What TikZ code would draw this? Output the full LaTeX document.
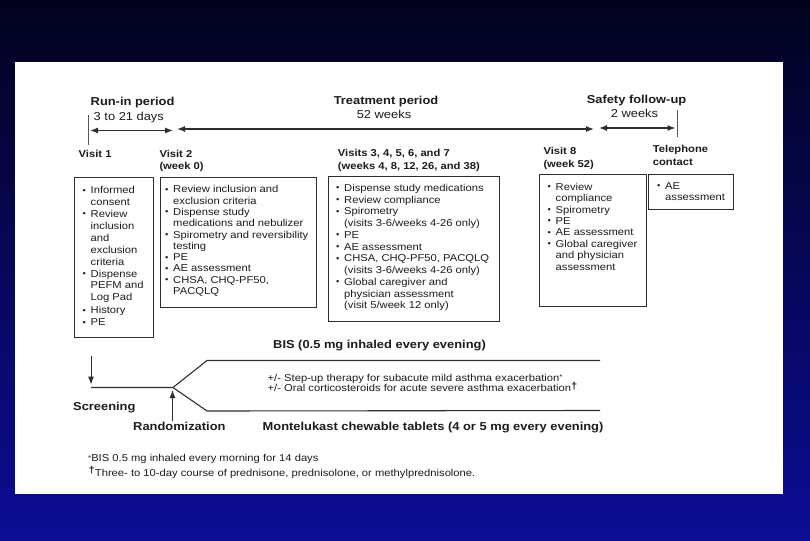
\documentclass[tikz,border=0pt]{standalone}
\usepackage{fontspec}
\setmainfont{Liberation Sans}[FakeStretch=1.12]
\usetikzlibrary{arrows.meta}
\definecolor{bgtop}{RGB}{2,2,30}
\definecolor{bgbot}{RGB}{12,12,150}
\definecolor{ink}{RGB}{28,28,28}
\definecolor{lin}{RGB}{45,45,45}
\newcommand\bu{\makebox[8pt][l]{\raisebox{0.6pt}{\fontsize{8.5}{8.5}\selectfont\textbullet}}}
\newcommand\ci{\hspace*{8pt}}
\newcommand\fnast{\raisebox{1.8pt}{\fontsize{7}{7}\selectfont *}}
\newcommand\fndag{{\bfseries\textdagger}}
\tikzset{
  hd/.style={font=\fontsize{11.5}{13}\selectfont\bfseries, text=ink, inner sep=0pt},
  sub/.style={font=\fontsize{11.5}{13}\selectfont, text=ink, inner sep=0pt},
  vlab/.style={font=\fontsize{10}{12.8}\selectfont\bfseries, text=ink, inner sep=0pt, align=left, anchor=north west},
  vbox/.style={draw=lin, line width=0.9pt, inner sep=0pt, anchor=north west},
  btxt/.style={text=ink, inner sep=0pt, align=left, anchor=north west},
  small/.style={font=\fontsize{10}{12}\selectfont, text=ink, inner sep=0pt, anchor=mid west},
  ln/.style={draw=lin, line width=1.1pt},
  dbl/.style={draw=lin, line width=1.3pt, {Latex[length=8pt,width=6pt]}-{Latex[length=8pt,width=6pt]}},
  arr/.style={draw=lin, line width=1pt, -{Latex[length=8pt,width=6pt]}},
  tick/.style={draw=lin!80, line width=0.7pt}
}
\begin{document}
\begin{tikzpicture}[x=1pt,y={(0pt,-1pt)}]
\useasboundingbox (0,0) rectangle (810,540);
\shade[top color=bgtop, bottom color=bgbot] (0,0) rectangle (810,540);
\fill[white] (15,62) rectangle (783,493.5);

% period headings
\node[hd, anchor=mid west] (runin) at (90.5,103.3) {Run-in period};
\node[sub, anchor=mid west] (rdays) at (93.5,118) {3 to 21 days};
\node[hd, anchor=mid] (treat) at (386,102) {Treatment period};
\node[sub, anchor=mid] (tweeks) at (384,116) {52 weeks};
\node[hd, anchor=mid] (safe) at (636.5,100.7) {Safety follow-up};
\node[sub, anchor=mid] (sweeks) at (634.5,114.5) {2 weeks};

% period arrows
\coordinate (ra) at (90,130.5);
\coordinate (rb) at (173,130.5);
\coordinate (ta) at (177,129);
\coordinate (tb) at (594,129);
\coordinate (sa) at (599,128);
\coordinate (sb) at (675.5,128);
\draw[dbl] (ra) -- (rb);
\draw[dbl] (ta) -- (tb);
\draw[dbl] (sa) -- (sb);
\coordinate (v1a) at (88,115);
\coordinate (v1b) at (88,145);
\coordinate (tla) at (677,110);
\coordinate (tlb) at (677,137);
\draw[tick] (v1a) -- (v1b);
\draw[tick] (tla) -- (tlb);

% visit labels
\node[vlab] (lv1) at (78.5,150.3) {Visit 1};
\node[vlab] (lv2) at (159.3,149.6) {Visit 2\\(week 0)};
\node[vlab] (lv3) at (337.7,149.4) {Visits 3, 4, 5, 6, and 7\\(weeks 4, 8, 12, 26, and 38)};
\node[vlab] (lv8) at (543.3,146.8) {Visit 8\\(week 52)};
\node[vlab] (ltel) at (652.7,145.5) {Telephone\\contact};

% visit boxes
\node[vbox, minimum width=78.5pt, minimum height=159.5pt] (b1) at (74,177) {};
\node[vbox, minimum width=156.5pt, minimum height=130pt] (b2) at (159.5,177) {};
\node[vbox, minimum width=170.5pt, minimum height=145.5pt] (b3) at (328,175.5) {};
\node[vbox, minimum width=107.5pt, minimum height=131.5pt] (b4) at (538.5,174) {};
\node[vbox, minimum width=85.5pt, minimum height=35pt] (b5) at (647.5,173.5) {};

\node[btxt, font=\fontsize{10}{11.9}\selectfont] (t1) at (82.5,186.3) {%
\bu Informed\\ \ci consent\\ \bu Review\\ \ci inclusion\\ \ci and\\ \ci exclusion\\ \ci criteria\\
\bu Dispense\\ \ci PEFM and\\ \ci Log Pad\\[1pt] \bu History\\ \bu PE};
\node[btxt, font=\fontsize{10}{11.3}\selectfont] (t2) at (165,185.4) {%
\bu Review inclusion and\\ \ci exclusion criteria\\ \bu Dispense study\\ \ci medications and nebulizer\\
\bu Spirometry and reversibility\\ \ci testing\\ \bu PE\\ \bu AE assessment\\ \bu CHSA, CHQ-PF50,\\ \ci PACQLQ};
\node[btxt, font=\fontsize{10}{11.75}\selectfont] (t3) at (336,184) {%
\bu Dispense study medications\\ \bu Review compliance\\ \bu Spirometry\\ \ci (visits 3-6/weeks 4-26 only)\\
\bu PE\\ \bu AE assessment\\ \bu CHSA, CHQ-PF50, PACQLQ\\ \ci (visits 3-6/weeks 4-26 only)\\
\bu Global caregiver and\\ \ci physician assessment\\ \ci (visit 5/week 12 only)};
\node[btxt, font=\fontsize{10}{11.4}\selectfont] (t4) at (547.5,182.8) {%
\bu Review\\ \ci compliance\\ \bu Spirometry\\ \bu PE\\ \bu AE assessment\\ \bu Global caregiver\\
\ci and physician\\ \ci assessment};
\node[btxt, font=\fontsize{10}{11.6}\selectfont] (t5) at (657,182) {%
\bu AE\\ \ci assessment};

% treatment arms
\node[hd, anchor=mid west] (bis) at (273,346) {BIS (0.5 mg inhaled every evening)};
\coordinate (scrTop) at (91,356);
\coordinate (scrTip) at (91,384.5);
\draw[arr] (scrTop) -- (scrTip);
\coordinate (s0) at (91,387.5);
\coordinate (fork) at (173,387.5);
\coordinate (up1) at (207,360.5);
\coordinate (up2) at (600,360.5);
\coordinate (lo1) at (207,411);
\coordinate (lo2) at (600,410.5);
\draw[ln] (s0) -- (fork) -- (up1) -- (up2);
\draw[ln] (fork) -- (lo1) -- (lo2);
\coordinate (rndB) at (172.5,421);
\coordinate (rndT) at (172.5,390);
\draw[arr] (rndB) -- (rndT);

\node[small] (step) at (267.5,378.5) {+/- Step-up therapy for subacute mild asthma exacerbation\fnast};
\node[small] (oral) at (267.5,389) {+/- Oral corticosteroids for acute severe asthma exacerbation\raisebox{2.6pt}{\fndag}};
\node[hd, anchor=mid west] (scr) at (73,408) {Screening};
\node[hd, anchor=mid west] (rnd) at (133,428) {Randomization};
\node[hd, anchor=mid west] (mont) at (262.5,427.5) {Montelukast chewable tablets (4 or 5 mg every evening)};

% footnotes
\node[small] (fn1) at (88,459.3) {\fnast BIS 0.5 mg inhaled every morning for 14 days};
\node[small] (fn2) at (88.5,474.3) {\raisebox{3pt}{\fndag}Three- to 10-day course of prednisone, prednisolone, or methylprednisolone.};
\end{tikzpicture}
\end{document}
